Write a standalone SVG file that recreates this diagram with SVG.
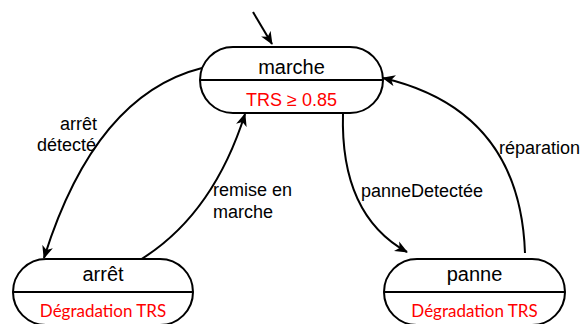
<svg xmlns="http://www.w3.org/2000/svg" width="584" height="324" viewBox="0 0 584 324">
<defs>
<marker id="arr" markerUnits="userSpaceOnUse" markerWidth="14" markerHeight="12" refX="12" refY="6" orient="auto" viewBox="0 0 14 12">
<path d="M0,0.5 L13,6 L0,11.5 L3.5,6 z" fill="#000"/>
</marker>
<style>
.st{fill:#fff;stroke:#000;stroke-width:2}
.dv{stroke:#000;stroke-width:2}
.nm{font-family:"Liberation Sans",Arial,sans-serif;font-size:20px;fill:#000;text-anchor:middle}
.lb{font-family:"Liberation Sans",Arial,sans-serif;font-size:18px;fill:#000}
.rd{font-family:"Liberation Sans",Arial,sans-serif;font-size:18px;fill:#ff0000;text-anchor:middle}
.rc{font-family:Lato,"Open Sans",sans-serif;font-size:17px;fill:#ff0000;text-anchor:middle}
.cn{fill:none;stroke:#000;stroke-width:2;marker-end:url(#arr)}
</style>
</defs>
<g id="connectors">
<path class="cn" d="M253,12 L272,44"/>
<path class="cn" d="M202,68 Q95,95 44,258"/>
<path class="cn" d="M140,260 Q213,215 245,114"/>
<path class="cn" d="M343,113 Q340,215 407,252"/>
<path class="cn" d="M525,253 Q520,110 383,78"/>
</g>
<g id="labels">
<text class="lb" x="97" y="130" text-anchor="end">arrêt</text>
<text class="lb" x="96" y="151" text-anchor="end">détecté</text>
<text class="lb" x="213" y="196">remise en</text>
<text class="lb" x="213" y="218">marche</text>
<text class="lb" x="361" y="197">panneDetectée</text>
<text class="lb" x="499" y="154">réparation</text>
</g>
<g id="marche">
<rect class="st" x="200" y="47" width="183" height="66" rx="33" ry="33"/>
<line class="dv" x1="200" y1="80" x2="383" y2="80"/>
<text class="nm" x="291.5" y="74">marche</text>
<text class="rd" x="291.5" y="106">TRS ≥ 0.85</text>
</g>
<g id="arret">
<rect class="st" x="13" y="259" width="180" height="66" rx="33" ry="33"/>
<line class="dv" x1="13" y1="292" x2="193" y2="292"/>
<text class="nm" x="103" y="281">arrêt</text>
<text class="rc" x="103" y="317">Dégradation TRS</text>
</g>
<g id="panne">
<rect class="st" x="384" y="259" width="181" height="66" rx="33" ry="33"/>
<line class="dv" x1="384" y1="292" x2="565" y2="292"/>
<text class="nm" x="474.5" y="281">panne</text>
<text class="rc" x="474.5" y="317">Dégradation TRS</text>
</g>
</svg>
